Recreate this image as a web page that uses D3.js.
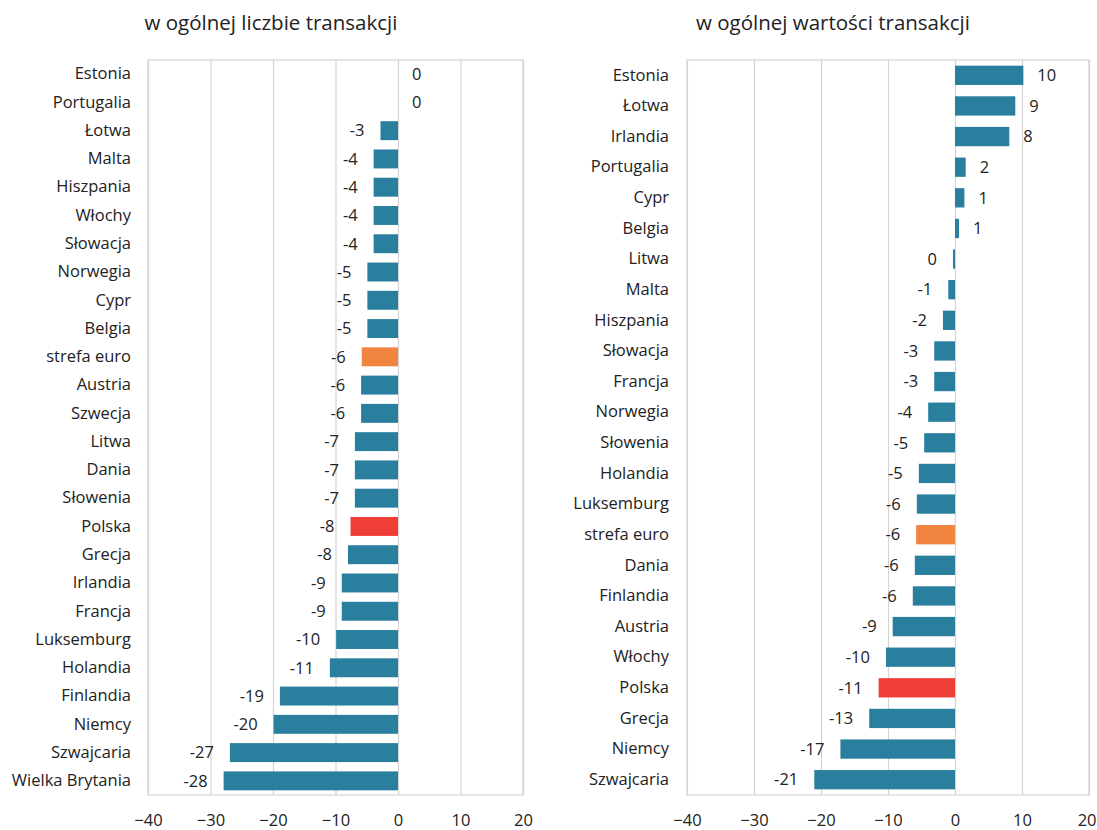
<!DOCTYPE html>
<html>
<head>
<meta charset="utf-8">
<script src="https://cdn.jsdelivr.net/npm/d3@7"></script>
<style>
  html, body { margin: 0; padding: 0; background: #fff; }
  svg { display: block; font-family: "Open Sans", "Noto Sans", sans-serif; }
</style>
</head>
<body>
<svg id="chart" width="1097" height="830"></svg>
<script>
// Zmiana liczby i wartości transakcji (r/r, %)
const countCategories = ["Estonia", "Portugalia", "Łotwa", "Malta", "Hiszpania", "Włochy", "Słowacja",
  "Norwegia", "Cypr", "Belgia", "strefa euro", "Austria", "Szwecja", "Litwa", "Dania", "Słowenia",
  "Polska", "Grecja", "Irlandia", "Francja", "Luksemburg", "Holandia", "Finlandia", "Niemcy",
  "Szwajcaria", "Wielka Brytania"];
const countValues = [0, 0, -2.8, -3.9, -3.9, -3.9, -3.9,
  -4.9, -4.9, -4.9, -5.8, -5.9, -5.9, -6.9, -6.9, -6.9,
  -7.6, -8.0, -9.0, -9.0, -9.9, -10.9, -18.9, -19.9,
  -26.9, -27.9];

const valueCategories = ["Estonia", "Łotwa", "Irlandia", "Portugalia", "Cypr", "Belgia", "Litwa",
  "Malta", "Hiszpania", "Słowacja", "Francja", "Norwegia", "Słowenia", "Holandia", "Luksemburg",
  "strefa euro", "Dania", "Finlandia", "Austria", "Włochy", "Polska", "Grecja", "Niemcy", "Szwajcaria"];
const valueValues = [10.2, 9.0, 8.1, 1.6, 1.4, 0.6, -0.3,
  -1.0, -1.8, -3.1, -3.1, -4.0, -4.6, -5.4, -5.7,
  -5.8, -6.0, -6.3, -9.3, -10.3, -11.4, -12.8, -17.1, -21.0];

const xTicks = [-40, -30, -20, -10, 0, 10, 20];
const titles = ["w ogólnej liczbie transakcji", "w ogólnej wartości transakcji"];

const colors = { base: "#2a7f9e", euro: "#f1843f", pl: "#ee3e36" };
const barColor = c => c === "strefa euro" ? colors.euro : (c === "Polska" ? colors.pl : colors.base);

const svg = d3.select("#chart");
const width = +svg.attr("width");
const plotTop = 60, plotBottom = 795;
const fontSize = 16.5;
const fmtTick = d3.format("d");
const fmtLabel = v => {
  const r = Math.round(v);
  return r < 0 ? "-" + Math.abs(r) : String(Math.abs(r));
};

function panel(cfg) {
  const data = cfg.cats.map((c, i) => ({ c, v: cfg.vals[i] }));
  const x = d3.scaleLinear().domain([-40, 20]).range([cfg.left, cfg.right]);
  const y = d3.scaleBand().domain(cfg.cats).range([plotTop, plotBottom])
    .paddingInner(cfg.pad).paddingOuter(cfg.pad / 2);
  const g = svg.append("g");

  // title
  g.append("text").attr("x", cfg.titleX).attr("y", 30)
    .attr("text-anchor", "middle").attr("font-size", 20.5).attr("font-weight", 500)
    .attr("fill", "#222").text(cfg.title);

  // vertical grid lines
  g.append("g")
    .attr("transform", `translate(0,${plotBottom})`)
    .call(d3.axisBottom(x).tickValues(xTicks).tickSize(-(plotBottom - plotTop)).tickFormat(""))
    .call(a => a.select(".domain").remove())
    .call(a => a.selectAll(".tick line").attr("stroke", "#d4d4d4").attr("stroke-width", 1.2));

  // frame
  g.append("rect").attr("x", cfg.left).attr("y", plotTop)
    .attr("width", cfg.right - cfg.left).attr("height", plotBottom - plotTop)
    .attr("fill", "none").attr("stroke", "#d4d4d4").attr("stroke-width", 1.2);

  // x tick labels (kept inside the svg at the right edge)
  g.append("g")
    .attr("transform", `translate(0,${plotBottom})`)
    .call(d3.axisBottom(x).tickValues(xTicks).tickSize(0).tickPadding(19).tickFormat(fmtTick))
    .call(a => a.select(".domain").remove())
    .call(a => a.selectAll(".tick text").attr("font-size", fontSize).attr("fill", "#222")
      .attr("font-family", "'Open Sans', sans-serif")
      .each(function (d) {
        const half = this.getComputedTextLength() / 2;
        const over = x(d) + half - (width - 1);
        if (over > 0) d3.select(this).attr("dx", -over);
      }));

  // category labels
  g.append("g")
    .attr("transform", `translate(${cfg.left},0)`)
    .call(d3.axisLeft(y).tickSize(0).tickPadding(cfg.left - cfg.catX))
    .call(a => a.select(".domain").remove())
    .call(a => a.selectAll(".tick text").attr("font-size", fontSize).attr("fill", "#222")
      .attr("font-family", "'Open Sans', sans-serif"));

  // bars
  g.append("g").selectAll("rect").data(data).join("rect")
    .attr("x", d => x(Math.min(0, d.v)))
    .attr("y", d => y(d.c))
    .attr("width", d => Math.abs(x(d.v) - x(0)))
    .attr("height", y.bandwidth())
    .attr("fill", d => barColor(d.c));

  // value labels
  g.append("g").selectAll("text").data(data).join("text")
    .attr("x", d => d.v < 0 ? x(d.v) - 16 : x(d.v) + 14)
    .attr("y", d => y(d.c) + y.bandwidth() / 2)
    .attr("dy", "0.35em")
    .attr("text-anchor", d => d.v < 0 ? "end" : "start")
    .attr("font-size", fontSize).attr("fill", "#222")
    .text(d => fmtLabel(d.v));
}

panel({ cats: countCategories, vals: countValues, left: 148, right: 523, catX: 131,
  pad: 0.33, title: titles[0], titleX: 271 });
panel({ cats: valueCategories, vals: valueValues, left: 687, right: 1089, catX: 669,
  pad: 0.37, title: titles[1], titleX: 833 });
</script>
</body>
</html>
